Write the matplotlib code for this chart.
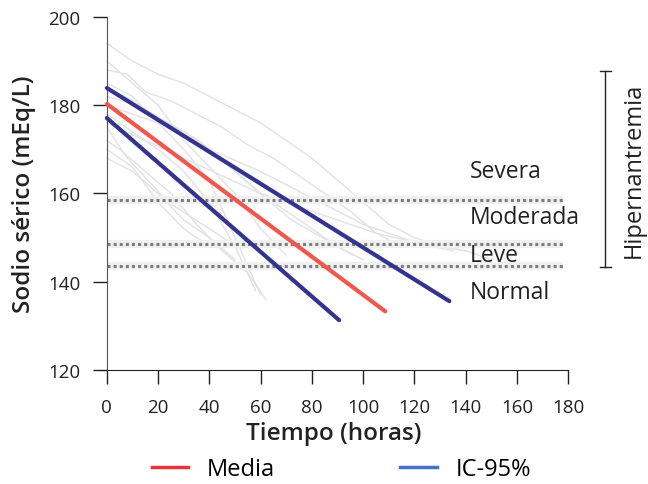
import matplotlib
matplotlib.use("Agg")
import matplotlib.pyplot as plt
from matplotlib.lines import Line2D

plt.rcParams['font.family'] = ['Open Sans', 'DejaVu Sans']

# individual patient trajectories (faint grey)
patient_t = [
    [0, 10, 20, 30, 40, 50, 60, 70, 80, 90, 100, 110, 120, 130, 140],
    [0, 8, 15, 25, 35, 45, 55, 65, 75, 85, 95, 105, 115],
    [0, 10, 20, 30, 40, 50, 60],
    [0, 10, 20, 30, 40, 50, 58],
    [0, 5, 15, 25, 35, 45, 55, 62],
    [0, 10, 20, 30, 40, 50],
    [0, 12, 24, 36, 48, 60, 72, 84, 96],
    [0, 15, 30, 45, 60, 75, 90, 105, 120, 135],
    [0, 10, 20, 30, 40, 50, 60, 70],
    [0, 10, 20, 30, 40],
    [0, 20, 40, 60, 80, 100, 120, 140, 150],
    [0, 8, 16, 24, 32, 40, 48],
    [0, 10, 20, 30, 40, 50, 60, 70, 80, 90, 100],
]
patient_na = [
    [194, 190, 187, 185, 182, 179, 176, 172, 168, 163, 158, 153, 150, 148, 147],
    [188, 187, 183, 181, 178, 175, 171, 168, 164, 160, 156, 151, 148],
    [185, 182, 176, 170, 163, 150, 137],
    [178, 174, 170, 165, 158, 148, 138],
    [172, 170, 165, 160, 153, 147, 142, 136],
    [168, 165, 160, 154, 150, 145],
    [182, 180, 176, 172, 166, 160, 154, 150, 146],
    [176, 172, 168, 164, 160, 157, 154, 151, 149, 147],
    [190, 185, 180, 172, 166, 160, 152, 146],
    [170, 166, 158, 152, 148],
    [180, 176, 170, 165, 159, 153, 149, 147, 145],
    [175, 168, 163, 158, 155, 152, 149],
    [184, 181, 177, 174, 170, 165, 160, 156, 152, 148, 145],
]

# mean and 95% CI lines
media_t = [0, 108.6]
media_na = [180.3, 133.3]
ic_sup_t = [0, 133.6]
ic_sup_na = [183.9, 135.6]
ic_inf_t = [0, 90.6]
ic_inf_na = [177.1, 131.3]

# severity thresholds
umbrales = [158.5, 148.5, 143.5]
categorias = ['Severa', 'Moderada', 'Leve', 'Normal']
cat_y = [165.2, 154.6, 146.0, 137.6]

fig = plt.figure(figsize=(6.48, 4.85), dpi=100)
ax = fig.add_axes([0.153, 0.235, 0.724, 0.728])

for t, na in zip(patient_t, patient_na):
    ax.plot(t, na, color='#e2e2e2', lw=1.0, zorder=1)

for u in umbrales:
    ax.plot([0, 178], [u, u], color='#f0f0f0', lw=6, solid_capstyle='butt', zorder=2)
    ax.plot([0, 178], [u, u], color='#7d7d7d', lw=2.2, linestyle=(0, (1, 1)), zorder=2)

ax.plot(ic_sup_t, ic_sup_na, color='#34348f', lw=3, solid_capstyle='round', zorder=3)
ax.plot(ic_inf_t, ic_inf_na, color='#34348f', lw=3, solid_capstyle='round', zorder=3)
ax.plot(media_t, media_na, color='#f0574d', lw=3, solid_capstyle='round', zorder=4)

for c, y in zip(categorias, cat_y):
    ax.text(141.5, y, c, fontsize=16.5, va='center', ha='left', color='#222222')

ax.set_xlim(-3, 180)
ax.set_ylim(120, 200)
ax.set_xticks(range(0, 181, 20))
ax.set_yticks(range(120, 201, 20))
ax.spines['top'].set_visible(False)
ax.spines['right'].set_visible(False)
ax.spines['left'].set_position(('data', 0))
ax.spines['left'].set_color('#555555')
ax.spines['bottom'].set_color('#222222')
ax.tick_params(axis='both', direction='out', length=10, width=1, labelsize=13.5, colors='#222222')
ax.tick_params(axis='x', pad=10)
ax.tick_params(axis='y', pad=9)
ax.set_xlabel('Tiempo (horas)', fontsize=17.5, fontweight='semibold', color='#222222', labelpad=4)
ax.set_ylabel('Sodio sérico (mEq/L)', fontsize=17.5, fontweight='semibold', color='#222222', labelpad=9)

# Hipernatremia bracket
ax.plot([194.5, 194.5], [187.8, 143.3], color='#222222', lw=1, clip_on=False)
ax.plot([192.5, 196.5], [187.8, 187.8], color='#222222', lw=1, clip_on=False)
ax.plot([192.5, 196.5], [143.3, 143.3], color='#222222', lw=1, clip_on=False)
ax.text(205.5, 165.5, 'Hipernantremia', rotation=90, fontsize=17, va='center', ha='center',
        color='#222222', clip_on=False)

handles = [Line2D([], [], color='#e8333a', lw=2.5), Line2D([], [], color='#4472c4', lw=2.5)]
fig.legend(handles, ['Media', 'IC-95%'], loc='center', bbox_to_anchor=(0.527, 0.031), ncol=2,
           frameon=False, fontsize=17, columnspacing=5.3, handlelength=1.55, handletextpad=0.8)

fig.savefig('out.png', dpi=100)
